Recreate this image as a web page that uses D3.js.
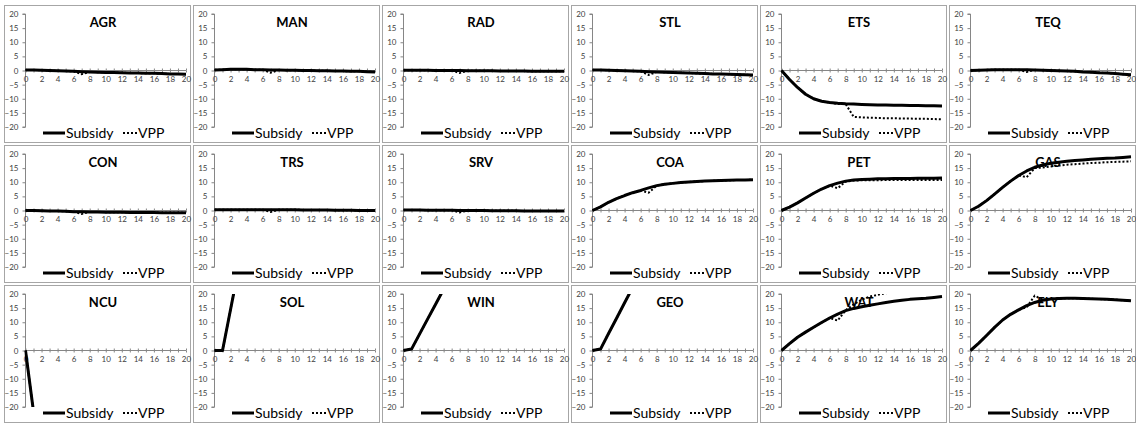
<!DOCTYPE html>
<html>
<head>
<meta charset="utf-8">
<script src="https://cdn.jsdelivr.net/npm/d3@7"></script>
<style>
  body { margin: 0; background: #fff; }
  svg { display: block; font-family: Lato, 'Open Sans', sans-serif; }
  .axis path, .axis line { stroke: #868686; }
  .axis text { fill: #404040; font-size: 8px; font-family: Lato, sans-serif; }
</style>
</head>
<body>
<svg width="1136" height="423"></svg>
<script>
// years on the x axis
const years = d3.range(0, 21);
const xTicks = [0, 2, 4, 6, 8, 10, 12, 14, 16, 18, 20];
const yTicks = [-20, -15, -10, -5, 0, 5, 10, 15, 20];

const sectors = ['AGR', 'MAN', 'RAD', 'STL', 'ETS', 'TEQ',
                 'CON', 'TRS', 'SRV', 'COA', 'PET', 'GAS',
                 'NCU', 'SOL', 'WIN', 'GEO', 'WAT', 'ELY'];

// Subsidy / VPP paths, one value per year
const subAGR = [0.2, 0.2, 0.1, 0, -0.1, -0.2, -0.3, -0.4, -0.5, -0.6, -0.7, -0.7, -0.8, -0.9, -0.9, -1.0, -1.0, -1.1, -1.2, -1.2, -1.3];
const vppAGR = [0.2, 0.2, 0.1, 0, -0.1, -0.2, -0.3, -1.3, -0.5, -0.6, -0.7, -0.7, -0.8, -0.9, -0.9, -1.0, -1.0, -1.1, -1.2, -1.2, -1.3];
const subMAN = [0.2, 0.3, 0.4, 0.4, 0.4, 0.3, 0.3, 0.2, 0.2, 0.1, 0.1, 0, 0, -0.1, -0.1, -0.2, -0.2, -0.3, -0.3, -0.4, -0.5];
const vppMAN = [0.2, 0.3, 0.4, 0.4, 0.4, 0.3, 0.3, -0.8, 0.2, 0.1, 0.1, 0, 0, -0.1, -0.1, -0.2, -0.2, -0.3, -0.3, -0.4, -0.5];
const subRAD = [0.1, 0.1, 0.1, 0.1, 0, 0, 0, 0, -0.1, -0.1, -0.1, -0.1, -0.2, -0.2, -0.2, -0.2, -0.3, -0.3, -0.3, -0.3, -0.3];
const vppRAD = [0.1, 0.1, 0.1, 0.1, 0, 0, 0, -0.9, -0.1, -0.1, -0.1, -0.1, -0.2, -0.2, -0.2, -0.2, -0.3, -0.3, -0.3, -0.3, -0.3];
const subSTL = [0.2, 0.2, 0.1, 0, -0.1, -0.2, -0.3, -0.4, -0.5, -0.6, -0.7, -0.8, -0.9, -1.0, -1.1, -1.2, -1.2, -1.3, -1.4, -1.5, -1.6];
const vppSTL = [0.2, 0.2, 0.1, 0, -0.1, -0.2, -0.3, -1.6, -0.5, -0.6, -0.7, -0.8, -0.9, -1.0, -1.1, -1.2, -1.2, -1.3, -1.4, -1.5, -1.6];
const subETS = [0, -3.2, -6.0, -8.4, -10.0, -10.9, -11.3, -11.6, -11.8, -11.9, -12.0, -12.1, -12.2, -12.2, -12.3, -12.3, -12.4, -12.4, -12.5, -12.5, -12.6];
const vppETS = [0, -3.2, -6.0, -8.4, -10.0, -10.9, -11.3, -11.9, -11.9, -16.4, -16.6, -16.7, -16.8, -16.9, -16.9, -17.0, -17.0, -17.1, -17.1, -17.2, -17.3];
const subTEQ = [0, 0.1, 0.2, 0.3, 0.3, 0.3, 0.3, 0.3, 0.2, 0.1, 0, -0.1, -0.2, -0.3, -0.5, -0.6, -0.8, -0.9, -1.1, -1.3, -1.5];
const vppTEQ = [0, 0.1, 0.2, 0.3, 0.3, 0.3, 0.3, -0.5, 0.2, 0.1, 0, -0.1, -0.2, -0.3, -0.5, -0.6, -0.8, -0.9, -1.1, -1.3, -1.5];
const subCON = [0, 0, -0.1, -0.2, -0.2, -0.3, -0.4, -0.4, -0.5, -0.5, -0.6, -0.6, -0.6, -0.7, -0.7, -0.7, -0.7, -0.8, -0.8, -0.8, -0.8];
const vppCON = [0, 0, -0.1, -0.2, -0.2, -0.3, -0.4, -1.2, -0.5, -0.5, -0.6, -0.6, -0.6, -0.7, -0.7, -0.7, -0.7, -0.8, -0.8, -0.8, -0.8];
const subTRS = [0.3, 0.3, 0.3, 0.3, 0.3, 0.3, 0.3, 0.3, 0.3, 0.3, 0.3, 0.2, 0.2, 0.2, 0.2, 0.1, 0.1, 0.1, 0, 0, 0];
const vppTRS = [0.3, 0.3, 0.3, 0.3, 0.3, 0.3, 0.3, -0.5, 0.3, 0.3, 0.3, 0.2, 0.2, 0.2, 0.2, 0.1, 0.1, 0.1, 0, 0, 0];
const subSRV = [0.2, 0.2, 0.2, 0.1, 0.1, 0.1, 0.1, 0, 0, 0, 0, -0.1, -0.1, -0.1, -0.1, -0.2, -0.2, -0.2, -0.2, -0.2, -0.2];
const vppSRV = [0.2, 0.2, 0.2, 0.1, 0.1, 0.1, 0.1, -0.7, 0, 0, 0, -0.1, -0.1, -0.1, -0.1, -0.2, -0.2, -0.2, -0.2, -0.2, -0.2];
const subCOA = [0, 1.3, 2.9, 4.2, 5.3, 6.3, 7.1, 8.0, 8.8, 9.3, 9.6, 9.9, 10.1, 10.3, 10.4, 10.5, 10.6, 10.7, 10.8, 10.8, 10.9];
const vppCOA = [0, 1.3, 2.9, 4.2, 5.3, 6.3, 7.1, 6.3, 8.8, 9.3, 9.6, 9.9, 10.1, 10.3, 10.4, 10.5, 10.6, 10.7, 10.8, 10.8, 10.9];
const subPET = [0, 1.2, 2.7, 4.4, 6.1, 7.6, 8.8, 9.7, 10.4, 10.8, 11.0, 11.1, 11.2, 11.2, 11.3, 11.3, 11.3, 11.4, 11.4, 11.4, 11.5];
const vppPET = [0, 1.2, 2.7, 4.4, 6.1, 7.6, 8.8, 7.9, 10.2, 10.6, 10.7, 10.7, 10.7, 10.8, 10.8, 10.8, 10.8, 10.8, 10.8, 10.8, 10.8];
const subGAS = [0, 1.5, 3.5, 5.8, 8.2, 10.4, 12.4, 14.0, 15.3, 16.1, 16.7, 17.1, 17.4, 17.7, 17.9, 18.1, 18.3, 18.5, 18.6, 18.8, 19.0];
const vppGAS = [0, 1.5, 3.5, 5.8, 8.2, 10.4, 12.4, 11.8, 15.0, 15.2, 15.6, 15.9, 16.2, 16.4, 16.6, 16.8, 16.9, 17.1, 17.2, 17.3, 17.4];
const subNCU = [0, -21.7, -40];
const vppNCU = [0, -21.7, -40];
const subSOL = [0, 0, 14.5, 29];
const vppSOL = [0, 0, 14.5, 29];
const subWIN = [0, 0.5, 5.8, 11.1, 16.4, 21.7];
const vppWIN = [0, 0.5, 5.8, 11.1, 16.4, 21.7];
const subGEO = [0, 0.5, 6.0, 11.4, 16.9, 22.3];
const vppGEO = [0, 0.5, 6.0, 11.4, 16.9, 22.3];
const subWAT = [0, 2.4, 4.7, 6.5, 8.2, 9.9, 11.5, 12.9, 14.1, 14.9, 15.5, 16.0, 16.5, 17.0, 17.4, 17.8, 18.1, 18.3, 18.5, 18.8, 19.1];
const vppWAT = [0, 2.4, 4.7, 6.5, 8.2, 9.9, 11.5, 10.6, 14.3, 16.3, 18.0, 19.1, 19.7, 20.3, 20.8, 21.2, 21.5, 21.8, 22.0, 22.2, 22.4];
const subELY = [0, 2.5, 5.3, 8.2, 10.8, 12.8, 14.4, 15.9, 17.0, 17.8, 18.2, 18.4, 18.5, 18.5, 18.4, 18.3, 18.2, 18.1, 18.0, 17.8, 17.6];
const vppELY = [0, 2.5, 5.3, 8.2, 10.8, 12.8, 14.4, 15.3, 19.4, 18.0, 18.3, 18.4, 18.5, 18.5, 18.4, 18.3, 18.2, 18.1, 18.0, 17.8, 17.6];

const subsidy = [subAGR, subMAN, subRAD, subSTL, subETS, subTEQ,
                 subCON, subTRS, subSRV, subCOA, subPET, subGAS,
                 subNCU, subSOL, subWIN, subGEO, subWAT, subELY];
const vpp = [vppAGR, vppMAN, vppRAD, vppSTL, vppETS, vppTEQ,
             vppCON, vppTRS, vppSRV, vppCOA, vppPET, vppGAS,
             vppNCU, vppSOL, vppWIN, vppGEO, vppWAT, vppELY];

const svg = d3.select('svg');
const cols = 6;
const stepX = 189;
const stepY = 140;
const panelW = 186;
const panelH = 137;

const x = d3.scaleLinear().domain([0, 20]).range([21.5, 182]);
const y = d3.scaleLinear().domain([-20, 20]).range([122, 9]);

const line = d3
  .line()
  .x((d, i) => x(years[i]))
  .y(d => y(d));

sectors.forEach((name, k) => {
  const col = k % cols;
  const row = Math.floor(k / cols);
  const g = svg
    .append('g')
    .attr('transform', `translate(${4 + col * stepX},${5 + row * stepY})`);

  g.append('rect')
    .attr('x', 0.5)
    .attr('y', 0.5)
    .attr('width', panelW)
    .attr('height', panelH)
    .attr('fill', '#fff')
    .attr('stroke', '#a6a6a6');

  g.append('clipPath')
    .attr('id', `clip-${name}`)
    .append('rect')
    .attr('x', x(0) - 1)
    .attr('y', y(20))
    .attr('width', x(20) - x(0) + 2)
    .attr('height', y(-20) - y(20));

  g.append('g')
    .attr('class', 'axis')
    .attr('transform', `translate(${x(0)},0)`)
    .call(d3.axisLeft(y).tickValues(yTicks).tickSize(3).tickPadding(4))
    .call(a => a.select('.domain').attr('d', `M-3,${y(20)}H0V${y(-20)}H-3`));

  // minor ticks crossing the x axis at each year
  g.append('g')
    .attr('class', 'axis')
    .attr('transform', `translate(0,${y(0)})`)
    .call(d3.axisTop(x).tickValues(years).tickSize(2).tickFormat(''))
    .call(a => a.select('.domain').remove());
  g.append('g')
    .attr('class', 'axis')
    .attr('transform', `translate(0,${y(0)})`)
    .call(d3.axisBottom(x).tickValues(years).tickSize(2).tickFormat(''))
    .call(a => a.select('.domain').attr('d', `M${x(0)},0H${x(20)}`));
  g.append('g')
    .attr('class', 'axis')
    .attr('transform', `translate(0,${y(0)})`)
    .call(d3.axisBottom(x).tickValues(xTicks).tickSize(0).tickPadding(6))
    .call(a => a.select('.domain').remove());

  g.append('text')
    .attr('x', 99)
    .attr('y', 22)
    .attr('text-anchor', 'middle')
    .attr('font-size', 13)
    .attr('font-weight', 'bold')
    .attr('fill', '#000')
    .text(name);

  const lines = g.append('g').attr('clip-path', `url(#clip-${name})`);
  lines
    .append('path')
    .datum(vpp[k])
    .attr('fill', 'none')
    .attr('stroke', '#000')
    .attr('stroke-width', 2)
    .attr('stroke-dasharray', '2,2')
    .attr('d', line);
  lines
    .append('path')
    .datum(subsidy[k])
    .attr('fill', 'none')
    .attr('stroke', '#000')
    .attr('stroke-width', 3)
    .attr('stroke-linejoin', 'round')
    .attr('d', line);

  // legend
  const lg = g.append('g').attr('transform', 'translate(0,128)');
  lg.append('line')
    .attr('x1', 39).attr('x2', 61)
    .attr('stroke', '#000').attr('stroke-width', 3);
  lg.append('text')
    .attr('x', 62).attr('y', 5)
    .attr('font-size', 14).attr('fill', '#000')
    .text('Subsidy');
  lg.append('line')
    .attr('x1', 119).attr('x2', 134)
    .attr('stroke', '#000').attr('stroke-width', 2)
    .attr('stroke-dasharray', '2,2');
  lg.append('text')
    .attr('x', 134).attr('y', 5)
    .attr('font-size', 14).attr('fill', '#000')
    .text('VPP');
});
</script>
</body>
</html>
